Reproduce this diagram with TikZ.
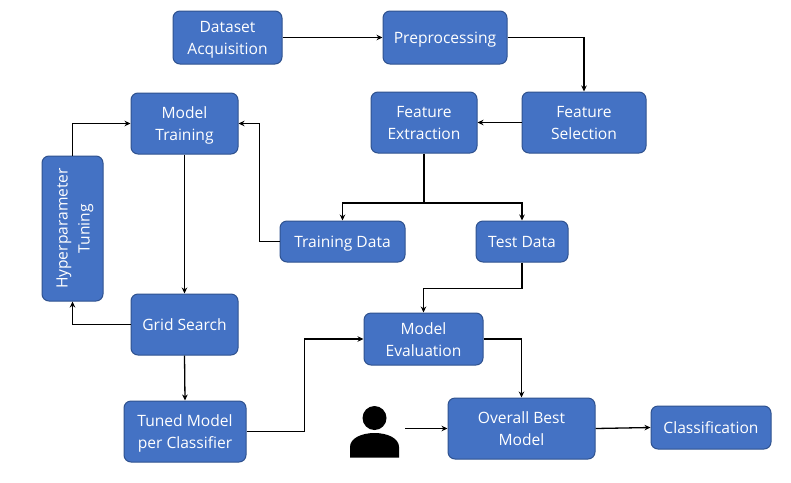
\documentclass[tikz,border=0pt]{standalone}
\usepackage{fontspec}
\setmainfont{Open Sans}
\usetikzlibrary{arrows.meta,calc}
\definecolor{boxfill}{HTML}{4472C4}
\definecolor{boxline}{HTML}{2F528F}
\newcommand\lbl[1]{\raisebox{0pt}[\dimexpr\height+3.5pt\relax][\depth]{\begin{tabular}{@{}c@{}}#1\end{tabular}}}
\tikzset{
  bx/.style={draw=boxline,fill=boxfill,line width=1pt,rounded corners=7pt,text=white,
    font=\fontsize{15.6}{22}\selectfont,inner sep=0pt,anchor=center},
  link/.style={draw=black,line width=1.3pt,-{Stealth[length=6pt,width=5.5pt]}},
  plainlink/.style={draw=black,line width=1.3pt}
}
\begin{document}
\begin{tikzpicture}[x=1pt,y=-1pt]
\useasboundingbox (0,0) rectangle (791,482);
\fill[white] (0,0) rectangle (791,482);
\node[bx,minimum width=109pt,minimum height=53pt] (dataset) at (227.5,37.5) {\lbl{Dataset\\Acquisition}};
\node[bx,minimum width=124pt,minimum height=53pt] (prep) at (445,37.5) {\lbl{Preprocessing}};
\node[bx,minimum width=124pt,minimum height=61pt] (fsel) at (584,122.5) {\lbl{Feature\\Selection}};
\node[bx,minimum width=106pt,minimum height=61pt] (fext) at (424,122.5) {\lbl{Feature\\Extraction}};
\node[bx,minimum width=107pt,minimum height=61pt] (train) at (184.5,123.5) {\lbl{Model\\Training}};
\node[bx,minimum width=145pt,minimum height=61pt,rotate=90] (hyper) at (72.5,228.5) {\lbl{Hyperparameter\\Tuning}};
\node[bx,minimum width=125pt,minimum height=41pt] (trdata) at (342.5,241.5) {\lbl{Training Data}};
\node[bx,minimum width=92pt,minimum height=41pt] (tedata) at (522,241.5) {\lbl{Test Data}};
\node[bx,minimum width=107pt,minimum height=61pt] (grid) at (184.5,324.5) {\lbl{Grid Search}};
\node[bx,minimum width=122pt,minimum height=61pt] (tuned) at (185,431.5) {\lbl{Tuned Model\\per Classifier}};
\node[bx,minimum width=119pt,minimum height=52pt] (eval) at (423.5,339) {\lbl{Model\\Evaluation}};
\node[bx,minimum width=147pt,minimum height=61pt] (best) at (521.5,428.5) {\lbl{Overall Best\\Model}};
\node[bx,minimum width=120pt,minimum height=43pt] (cls) at (711,427.5) {\lbl{Classification}};
% person icon
\fill[black] (374.5,418) circle (12pt);
\fill[black] (350,457.5) -- (350,447) .. controls (350,438) and (362,433) .. (374.5,433)
  .. controls (387,433) and (399,438) .. (399,447) -- (399,457.5) -- cycle;
\coordinate (person) at (405,428.5);
% connectors
\draw[link] (dataset.east) -- (prep.west);
\draw[link] (prep.east) -| (fsel.north);
\draw[link] (fsel.west) -- (fext.east);
\coordinate (branch) at (fext.south |- 0,203);
\draw[plainlink] (fext.south) -- (branch);
\draw[link] (branch) -| (trdata.north);
\draw[link] (branch) -| (tedata.north);
\draw[link] (trdata.west) -- ++(-20,0) |- (train.east);
\draw[link] (train.south) -- (grid.north);
\draw[link] (grid.west) -| (hyper.west);
\draw[link] (hyper.east) |- (train.west);
\draw[link] (grid.south) -- (tuned.north);
\draw[link] (tuned.east) -- ++(58,0) |- (eval.west);
\draw[link] (tedata.south) -- ++(0,26) -| (eval.north);
\draw[link] (eval.east) -| (best.north);
\draw[link] (person) -- (best.west);
\draw[link] (best.east) -- (cls.west);
\end{tikzpicture}
\end{document}
